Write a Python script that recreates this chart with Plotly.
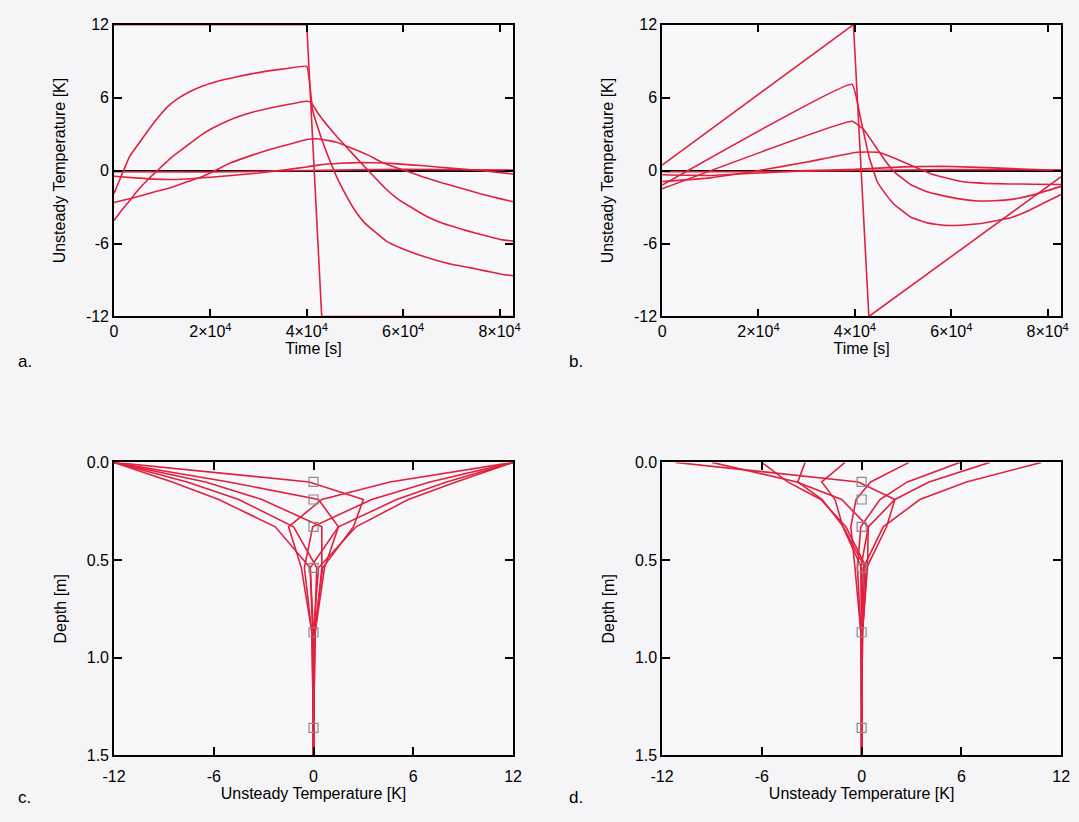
import plotly.graph_objects as go

# ---------------- panel a: square-wave forcing, time series ----------------
t_a_surf = [0, 40000, 43100, 82800]
T_a_surf = [12, 12, -12, -12]

t_a_d010 = [0, 3300, 5000, 7000, 9000, 11000, 13000, 15800, 18000, 21500, 25300, 28500, 32000, 36000, 40000,
            41200, 43000, 45000, 46000, 47300, 50000, 52000, 54100, 56500, 59500, 63000, 66300, 70000, 73800,
            77000, 80500, 82800]
T_a_d010 = [-1.9, 1.2, 2.15, 3.25, 4.3, 5.2, 5.85, 6.5, 6.9, 7.35, 7.7, 7.95, 8.2, 8.4, 8.57,
            5.0, 2.7, 0.6, -0.34, -1.41, -3.29, -4.3, -5.03, -5.8, -6.37, -6.9, -7.31, -7.7, -7.98,
            -8.25, -8.52, -8.65]

t_a_d019 = [0, 1500, 3000, 5000, 7000, 9000, 12000, 15000, 18000, 20500, 24500, 28700, 35000, 40000,
            40900, 42250, 46000, 49000, 52750, 56150, 58800, 61570, 65000, 68350, 72000, 75130, 78000,
            80550, 82800]
T_a_d019 = [-4.1, -3.3, -2.6, -1.6, -0.75, 0.0, 1.1, 2.0, 2.9, 3.5, 4.25, 4.8, 5.35, 5.7,
            5.6, 4.76, 2.9, 1.6, 0.0, -1.41, -2.3, -3.0, -3.8, -4.36, -4.8, -5.16, -5.45,
            -5.7, -5.8]

t_a_d033 = [0, 4270, 8000, 11740, 15000, 18510, 21000, 24000, 28700, 32000, 35600, 40000, 42600, 46000,
            49000, 52750, 56000, 60000, 64000, 68000, 71700, 76000, 80500, 82800]
T_a_d033 = [-2.62, -2.21, -1.8, -1.41, -0.95, -0.47, 0.0, 0.6, 1.27, 1.7, 2.08, 2.56, 2.6, 2.35,
            1.9, 1.27, 0.6, 0.05, -0.5, -1.0, -1.41, -1.9, -2.35, -2.56]

t_a_d054 = [0, 5000, 11700, 20000, 30000, 35600, 40000, 42600, 47000, 51400, 56000, 61600, 65500, 69700, 76000, 82800]
T_a_d054 = [-0.47, -0.62, -0.74, -0.55, -0.2, 0.07, 0.3, 0.47, 0.6, 0.66, 0.62, 0.47, 0.35, 0.2, 0.0, -0.28]

t_a_d087 = [0, 20000, 40000, 60000, 82800]
T_a_d087 = [-0.1, -0.12, 0.0, 0.1, 0.05]

# ---------------- panel b: sawtooth forcing, time series ----------------
t_b_surf = [0, 39700, 42900, 82800]
T_b_surf = [0.45, 12, -12, -0.5]

t_b_d010 = [0, 39400, 41100, 42870, 44620, 46500, 48120, 51630, 55000, 58640, 62000, 65640, 69000, 72640,
            76000, 79500, 82800]
T_b_d010 = [-1.2, 7.1, 4.45, 1.24, -0.9, -2.0, -2.77, -3.84, -4.3, -4.51, -4.5, -4.38, -4.15, -3.84,
            -3.3, -2.6, -1.97]

t_b_d019 = [0, 39400, 41820, 44620, 46500, 48120, 51630, 55000, 58640, 62000, 65640, 69000, 72640, 77000, 82800]
T_b_d019 = [-1.5, 4.05, 3.38, 1.78, 0.7, -0.1, -1.17, -1.75, -2.1, -2.35, -2.5, -2.48, -2.37, -2.0, -1.3]

t_b_d033 = [0, 10000, 20000, 30000, 40400, 45000, 48000, 51630, 56000, 62140, 67000, 72000, 77000, 82800]
T_b_d033 = [-0.9, -0.6, 0.0, 0.7, 1.51, 1.5, 1.05, 0.44, -0.3, -0.9, -1.05, -1.1, -1.12, -1.14]

t_b_d054 = [0, 10000, 30000, 40000, 50000, 58000, 70000, 82800]
T_b_d054 = [-0.35, -0.4, 0.0, 0.1, 0.3, 0.35, 0.2, 0.0]

t_b_d087 = [0, 20000, 40000, 60000, 82800]
T_b_d087 = [-0.1, -0.1, 0.0, 0.08, 0.05]

# ---------------- panels c, d: depth profiles ----------------
depths = [0.0, 0.10, 0.19, 0.33, 0.54, 0.87, 1.36, 1.5]
sensor_depths = [0.10, 0.19, 0.33, 0.54, 0.87, 1.36]
sensor_T = [0, 0, 0, 0, 0, 0]

profiles_c = [
    [12, 4.6, 0.5, -1.5, -0.73, -0.1, 0.0, 0.0],
    [12, 7.0, 3.5, -0.05, -0.55, -0.1, 0.0, 0.0],
    [12, 8.0, 5.0, 1.5, -0.2, -0.05, 0.0, 0.0],
    [12, 8.57, 5.7, 2.56, 0.3, 0.0, 0.0, 0.0],
    [-12, -0.26, 3.0, 2.4, 0.55, 0.05, 0.0, 0.0],
    [-12, -5.1, 0.3, 1.5, 0.66, 0.1, 0.0, 0.0],
    [-12, -6.5, -3.1, 0.5, 0.5, 0.1, 0.0, 0.0],
    [-12, -7.6, -4.5, -1.2, 0.2, 0.05, 0.0, 0.0],
    [-12, -8.5, -5.7, -2.3, -0.2, 0.0, 0.0, 0.0],
]

profiles_d = [
    [2.85, 0.54, -0.34, -0.65, -0.4, -0.05, 0.0, 0.0],
    [5.9, 2.75, 1.1, -0.05, -0.25, -0.05, 0.0, 0.0],
    [7.7, 4.05, 2.0, 0.4, -0.05, 0.0, 0.0, 0.0],
    [10.8, 6.3, 3.5, 1.3, 0.1, 0.0, 0.0, 0.0],
    [-11.2, -0.2, 2.0, 1.5, 0.3, 0.05, 0.0, 0.0],
    [-9.0, -3.9, -1.2, 0.4, 0.35, 0.05, 0.0, 0.0],
    [-6.0, -4.45, -2.45, -0.95, 0.3, 0.05, 0.0, 0.0],
    [-3.4, -3.84, -2.37, -1.1, 0.2, 0.0, 0.0, 0.0],
    [-1.0, -2.4, -1.6, -1.13, 0.0, 0.0, 0.0, 0.0],
]

RED = "#e0213f"
LW = 1.6
FONT = "Liberation Sans, Arial, sans-serif"

fig = go.Figure()

series_a = [(t_a_surf, T_a_surf), (t_a_d010, T_a_d010), (t_a_d019, T_a_d019),
            (t_a_d033, T_a_d033), (t_a_d054, T_a_d054), (t_a_d087, T_a_d087)]
series_b = [(t_b_surf, T_b_surf), (t_b_d010, T_b_d010), (t_b_d019, T_b_d019),
            (t_b_d033, T_b_d033), (t_b_d054, T_b_d054), (t_b_d087, T_b_d087)]


def series_line(k):
    # the surface forcing is drawn straight, the sensor curves slightly smoothed
    if k == 0:
        return dict(color=RED, width=LW)
    return dict(color=RED, width=LW, shape="spline", smoothing=0.3)


for k, (xs, ys) in enumerate(series_a):
    fig.add_trace(go.Scatter(x=xs, y=ys, mode="lines", line=series_line(k),
                             xaxis="x", yaxis="y", showlegend=False))
for k, (xs, ys) in enumerate(series_b):
    fig.add_trace(go.Scatter(x=xs, y=ys, mode="lines", line=series_line(k),
                             xaxis="x2", yaxis="y2", showlegend=False))
for prof in profiles_c:
    fig.add_trace(go.Scatter(x=prof, y=depths, mode="lines", line=dict(color=RED, width=LW),
                             xaxis="x3", yaxis="y3", showlegend=False))
for prof in profiles_d:
    fig.add_trace(go.Scatter(x=prof, y=depths, mode="lines", line=dict(color=RED, width=LW),
                             xaxis="x4", yaxis="y4", showlegend=False))
for xa, ya in (("x3", "y3"), ("x4", "y4")):
    fig.add_trace(go.Scatter(x=sensor_T, y=sensor_depths, mode="markers",
                             marker=dict(symbol="square-open", size=9, color="#8a8a8a",
                                         line=dict(width=1.2)),
                             xaxis=xa, yaxis=ya, showlegend=False))

time_ticks = [0, 20000, 40000, 60000, 80000]
time_text = ["0", "2×10<sup>4</sup>", "4×10<sup>4</sup>", "6×10<sup>4</sup>", "8×10<sup>4</sup>"]
temp_ticks = [-12, -6, 0, 6, 12]
temp_text = ["-12", "-6", "0", "6", "12"]
depth_ticks = [0.0, 0.5, 1.0, 1.5]
depth_text = ["0.0", "0.5", "1.0", "1.5"]

common = dict(showline=True, linecolor="black", linewidth=1.5, mirror="ticks",
              ticks="inside", ticklen=8, tickwidth=1.5, tickcolor="black",
              showgrid=False, tickfont=dict(family=FONT, size=16, color="black"))
title_font = dict(family=FONT, size=16, color="black")

xdom_l = [104 / 1079, 511 / 1079]
xdom_r = [663 / 1079, 1070 / 1079]
ydom_t = [1 - 315 / 822, 1 - 17 / 822]
ydom_b = [1 - 763 / 822, 1 - 464 / 822]

layout = dict(
    width=1079, height=822,
    margin=dict(l=0, r=0, t=0, b=0),
    paper_bgcolor="#f5f5f7", plot_bgcolor="#f8f8fa",
    font=dict(family=FONT, color="black"),
)
for i, (xd, yd) in enumerate([(xdom_l, ydom_t), (xdom_r, ydom_t)], start=1):
    sx = "" if i == 1 else str(i)
    layout["xaxis" + sx] = dict(domain=xd, anchor="y" + sx, range=[0, 82800], tickvals=time_ticks,
                                ticktext=time_text, zeroline=False,
                                title=dict(text="Time [s]", font=title_font, standoff=0), **common)
    layout["yaxis" + sx] = dict(domain=yd, anchor="x" + sx, range=[-12, 12], tickvals=temp_ticks,
                                ticktext=temp_text, zeroline=True, zerolinecolor="black", zerolinewidth=1.5,
                                title=dict(text="Unsteady Temperature [K]", font=title_font, standoff=16), **common)
for i, xd in ((3, xdom_l), (4, xdom_r)):
    layout["xaxis%d" % i] = dict(domain=xd, anchor="y%d" % i, range=[-12, 12], tickvals=temp_ticks,
                                 ticktext=temp_text, zeroline=False, ticklabelstandoff=6,
                                 title=dict(text="Unsteady Temperature [K]", font=title_font, standoff=0), **common)
    layout["yaxis%d" % i] = dict(domain=ydom_b, anchor="x%d" % i, range=[1.5, 0], tickvals=depth_ticks,
                                 ticktext=depth_text, zeroline=False,
                                 title=dict(text="Depth [m]", font=title_font, standoff=16), **common)

layout["annotations"] = [
    dict(text=lab, x=x / 1079, y=1 - y / 822, xref="paper", yref="paper", showarrow=False,
         xanchor="left", yanchor="middle", font=dict(family=FONT, size=17, color="black"))
    for lab, x, y in (("a.", 4, 361), ("b.", 566, 361), ("c.", 4, 806), ("d.", 566, 806))
]

fig.update_layout(**layout)
fig.write_html("out.html")
